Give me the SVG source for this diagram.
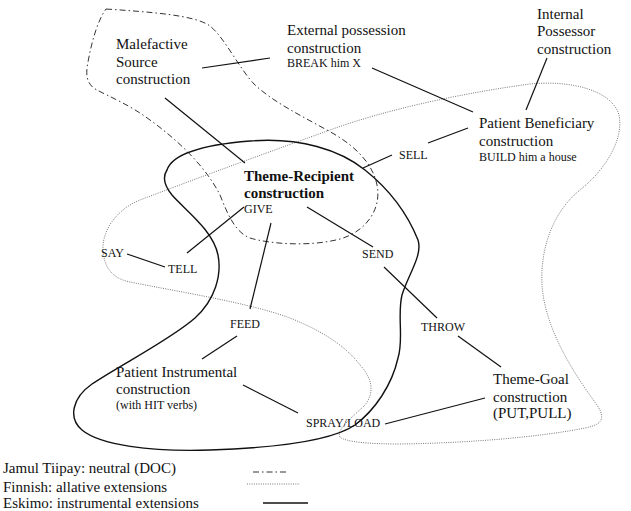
<svg xmlns="http://www.w3.org/2000/svg" width="631" height="511" viewBox="0 0 631 511">
<style>
text{font-family:"Liberation Serif","Times New Roman",serif;fill:#111}
.l{font-size:15px}
.s{font-size:12px}
.b{font-size:15px;font-weight:bold}
.jt{fill:none;stroke:#333;stroke-width:1;stroke-dasharray:6 3 1.5 3}
.fi{fill:none;stroke:#777;stroke-width:1;stroke-dasharray:1 1.3}
.es{fill:none;stroke:#111;stroke-width:1.4}
.c{stroke:#111;stroke-width:1.2;fill:none}
</style>
<rect width="631" height="511" fill="#fff"/>
<g id="regions">
<path id="jamul" class="jt" d="M106,9 C150,12 195,15 210,26 C225,38 240,70 255,85 C275,103 300,115 325,129 C350,142 372,160 377,185 C382,210 365,232 340,239 C310,247 270,244 250,238 C235,232 228,215 220,195 C205,165 175,138 150,120 C130,105 110,97 97,90 C85,84 86,72 88,62 C92,40 98,20 106,9 Z"/>
<path id="finnish" class="fi" d="M103,250 C102,232 115,210 140,200 C200,177 280,148 330,130 C390,108 470,92 530,84 C570,80 612,90 619,115 C624,140 605,170 580,190 C555,210 540,245 542,285 C545,330 575,375 597,405 C607,420 600,425 585,428 C540,437 470,443 400,444 C370,444 345,442 340,437 C335,430 355,415 365,405 C375,392 372,378 360,365 C345,345 320,330 290,318 C250,303 180,292 130,282 C110,278 104,265 103,250 Z"/>
<path id="eskimo" class="es" d="M167,170 C172,155 200,145 250,141 C300,137 340,150 365,170 C390,190 408,215 418,240 C423,255 408,275 402,295 C397,315 404,340 398,358 C392,385 375,410 355,425 C330,442 270,448 210,450 C150,452 100,445 82,430 C68,418 72,398 92,384 C120,365 170,340 195,318 C215,300 222,275 218,255 C213,230 185,210 172,195 C163,184 163,176 167,170 Z"/>
</g>
<g id="connectors">
<line class="c" x1="202" y1="68" x2="270" y2="58"/>
<line class="c" x1="165" y1="98" x2="245" y2="163"/>
<line class="c" x1="372" y1="68" x2="473" y2="112"/>
<line class="c" x1="547" y1="58" x2="526" y2="110"/>
<line class="c" x1="468" y1="128" x2="428" y2="143"/>
<line class="c" x1="392" y1="155" x2="363" y2="168"/>
<line class="c" x1="244" y1="207" x2="187" y2="253"/>
<line class="c" x1="127" y1="254" x2="165" y2="267"/>
<line class="c" x1="271" y1="223" x2="250" y2="309"/>
<line class="c" x1="237" y1="336" x2="202" y2="359"/>
<line class="c" x1="243" y1="385" x2="298" y2="413"/>
<line class="c" x1="307" y1="207" x2="373" y2="247"/>
<line class="c" x1="384" y1="267" x2="437" y2="318"/>
<line class="c" x1="458" y1="336" x2="501" y2="367"/>
<line class="c" x1="385" y1="424" x2="485" y2="398"/>
</g>
<g id="malefactive"><text class="l" x="116" y="49">Malefactive</text><text class="l" x="116" y="67">Source</text><text class="l" x="116" y="84">construction</text></g>
<g id="external"><text class="l" x="287" y="35">External possession</text><text class="l" x="287" y="53">construction</text><text class="s" x="287" y="67">BREAK him X</text></g>
<g id="internal"><text class="l" x="537" y="19">Internal</text><text class="l" x="537" y="36">Possessor</text><text class="l" x="537" y="54">construction</text></g>
<g id="beneficiary"><text class="l" x="479" y="128">Patient Beneficiary</text><text class="l" x="479" y="146">construction</text><text class="s" x="479" y="161">BUILD him a house</text></g>
<g id="sell"><text class="s" x="399" y="159">SELL</text></g>
<g id="recipient"><text class="b" x="244" y="181">Theme-Recipient</text><text class="b" x="244" y="198">construction</text><text class="s" x="244" y="213">GIVE</text></g>
<g id="say"><text class="s" x="101" y="257">SAY</text></g>
<g id="tell"><text class="s" x="168" y="273">TELL</text></g>
<g id="send"><text class="s" x="362" y="258">SEND</text></g>
<g id="feed"><text class="s" x="230" y="328">FEED</text></g>
<g id="throw"><text class="s" x="421" y="331">THROW</text></g>
<g id="instrumental"><text class="l" x="116" y="377">Patient Instrumental</text><text class="l" x="116" y="394">construction</text><text class="s" x="116" y="409">(with HIT verbs)</text></g>
<g id="sprayload"><text class="s" x="306" y="427">SPRAY/LOAD</text></g>
<g id="goal"><text class="l" x="493" y="384">Theme-Goal</text><text class="l" x="493" y="402">construction</text><text class="l" x="493" y="418">(PUT,PULL)</text></g>
<g id="legend">
<text class="l" x="3" y="473">Jamul Tiipay: neutral (DOC)</text>
<text class="l" x="3" y="492">Finnish: allative extensions</text>
<text class="l" x="3" y="508">Eskimo: instrumental extensions</text>
<line class="jt" x1="253" y1="472" x2="287" y2="472"/>
<line class="fi" x1="247" y1="484" x2="300" y2="484"/>
<line class="es" x1="263" y1="503" x2="308" y2="503"/>
</g>
</svg>
